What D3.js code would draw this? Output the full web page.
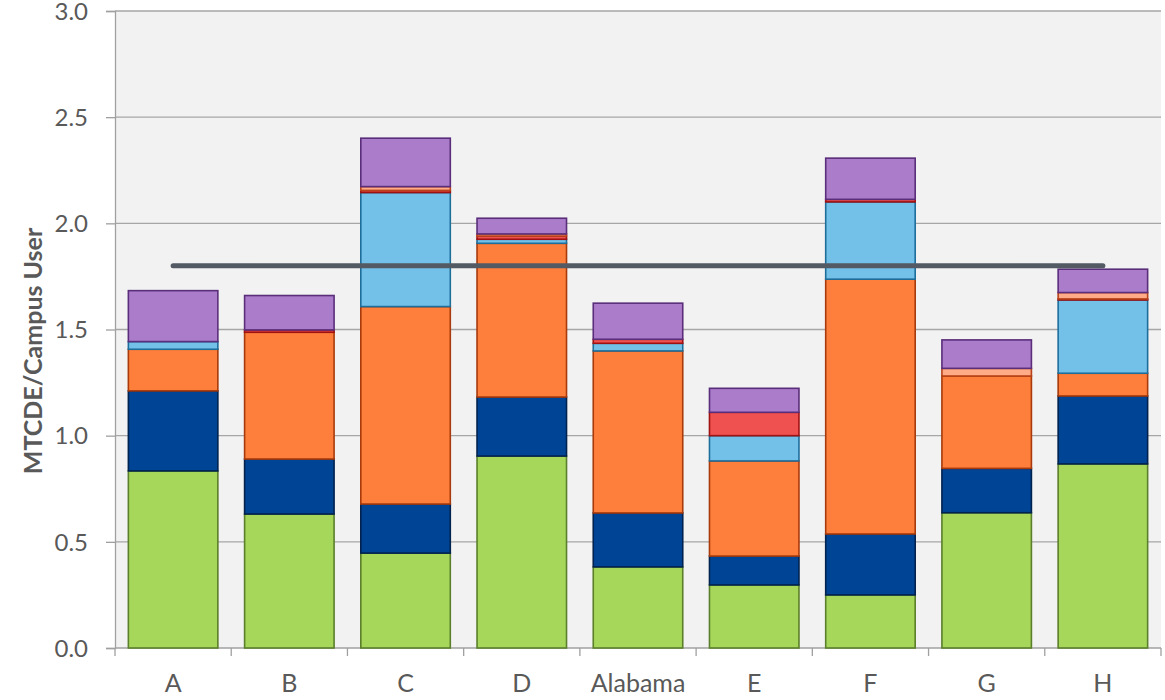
<!DOCTYPE html>
<html>
<head>
<meta charset="utf-8">
<script src="https://cdn.jsdelivr.net/npm/d3@7"></script>
<style>
  html, body { margin: 0; padding: 0; background: #ffffff; }
  svg { display: block; }
  text { font-family: Lato, "Open Sans", sans-serif; fill: #595959; }
</style>
</head>
<body>
<svg id="chart" width="1165" height="700"></svg>
<script>
// Categories along the x axis
const categories = ["A", "B", "C", "D", "Alabama", "E", "F", "G", "H"];

// Stacked components (MTCDE per campus user), bottom to top
const greenSeries     = [0.834, 0.631, 0.447, 0.904, 0.382, 0.297, 0.250, 0.637, 0.867];
const navySeries      = [0.377, 0.259, 0.231, 0.278, 0.254, 0.136, 0.287, 0.209, 0.320];
const orangeSeries    = [0.196, 0.597, 0.930, 0.724, 0.763, 0.448, 1.200, 0.435, 0.107];
const skySeries       = [0.036, 0.000, 0.537, 0.019, 0.036, 0.119, 0.364, 0.000, 0.345];
const redSeries       = [0.000, 0.011, 0.010, 0.015, 0.019, 0.110, 0.012, 0.000, 0.005];
const salmonSeries    = [0.000, 0.000, 0.018, 0.010, 0.000, 0.000, 0.000, 0.036, 0.030];
const purpleSeries    = [0.240, 0.162, 0.228, 0.074, 0.170, 0.113, 0.194, 0.134, 0.110];

// Reference line across the categories
const averageLine     = [1.8, 1.8, 1.8, 1.8, 1.8, 1.8, 1.8, 1.8, 1.8];

// Y axis tick values
const yTicks = [0, 0.5, 1.0, 1.5, 2.0, 2.5, 3.0];

const seriesDefs = [
  { key: "green",  values: greenSeries,  fill: "#a6d75b", stroke: "#5b7f2b" },
  { key: "navy",   values: navySeries,   fill: "#004495", stroke: "#00224f" },
  { key: "orange", values: orangeSeries, fill: "#fe7f3c", stroke: "#a83a0b" },
  { key: "sky",    values: skySeries,    fill: "#73c1e8", stroke: "#1e6e9c" },
  { key: "red",    values: redSeries,    fill: "#ef5050", stroke: "#a01212" },
  { key: "salmon", values: salmonSeries, fill: "#ffab88", stroke: "#b8431a" },
  { key: "purple", values: purpleSeries, fill: "#aa7cc9", stroke: "#5a2e7a" }
];

const rows = categories.map((c, i) => {
  const r = { category: c };
  seriesDefs.forEach(s => { r[s.key] = s.values[i]; });
  return r;
});

const svg = d3.select("#chart");
const margin = { left: 115, right: 4, top: 11, bottom: 52 };
const W = 1165, H = 700;
const plotW = W - margin.left - margin.right;
const plotH = H - margin.top - margin.bottom;

const g = svg.append("g").attr("transform", `translate(${margin.left},${margin.top})`);

const x = d3.scaleBand().domain(categories).range([0, plotW]).paddingInner(0).paddingOuter(0);
const y = d3.scaleLinear().domain([0, 3]).range([plotH, 0]);

// Plot background
g.append("rect")
  .attr("x", 0).attr("y", 0)
  .attr("width", plotW).attr("height", plotH)
  .attr("fill", "#f2f2f2");

// Horizontal gridlines
g.append("g")
  .selectAll("line")
  .data(yTicks.filter(t => t > 0))
  .join("line")
  .attr("x1", 0).attr("x2", plotW)
  .attr("y1", d => y(d)).attr("y2", d => y(d))
  .attr("stroke", "#a6a6a6").attr("stroke-width", 1.3);

// Y axis
const yAxis = g.append("g")
  .call(d3.axisLeft(y).tickValues(yTicks).tickFormat(d3.format(".1f")).tickSize(9).tickPadding(18));
yAxis.select(".domain").attr("stroke", "#a0a0a0").attr("stroke-width", 1.3);
yAxis.selectAll(".tick line").attr("stroke", "#a0a0a0").attr("stroke-width", 1.3);
yAxis.selectAll(".tick text")
  .style("font-family", "Lato, 'Open Sans', sans-serif")
  .style("font-size", "24px").attr("fill", "#595959")
  .attr("dy", "0.34em");

// X axis with ticks at category boundaries
const xAxisG = g.append("g").attr("transform", `translate(0,${plotH})`);
xAxisG.append("line")
  .attr("x1", 0).attr("x2", plotW).attr("y1", 0).attr("y2", 0)
  .attr("stroke", "#a0a0a0").attr("stroke-width", 1.3);
const boundaries = categories.map(c => x(c)).concat([x(categories[categories.length - 1]) + x.bandwidth()]);
xAxisG.selectAll("line.bt")
  .data(boundaries)
  .join("line").attr("class", "bt")
  .attr("x1", d => d).attr("x2", d => d)
  .attr("y1", 0).attr("y2", 8)
  .attr("stroke", "#a0a0a0").attr("stroke-width", 1.3);
xAxisG.selectAll("text")
  .data(categories)
  .join("text")
  .attr("x", d => x(d) + x.bandwidth() / 2)
  .attr("y", 44)
  .attr("text-anchor", "middle")
  .style("font-size", "25px")
  .text(d => d);

// Stacked bars
const stack = d3.stack().keys(seriesDefs.map(s => s.key));
const stacked = stack(rows);
const barW = x.bandwidth() * 0.77;
const barOffset = (x.bandwidth() - barW) / 2;

const layers = g.append("g").selectAll("g")
  .data(stacked)
  .join("g")
  .attr("fill", (d, i) => seriesDefs[i].fill)
  .attr("stroke", (d, i) => seriesDefs[i].stroke)
  .attr("stroke-width", 1.6);

layers.selectAll("rect")
  .data(d => d.filter(p => p[1] - p[0] > 0))
  .join("rect")
  .attr("x", d => x(d.data.category) + barOffset)
  .attr("width", barW)
  .attr("y", d => y(d[1]))
  .attr("height", d => Math.max(0, y(d[0]) - y(d[1])));

// Reference line
const line = d3.line()
  .x((d, i) => x(categories[i]) + x.bandwidth() / 2)
  .y(d => y(d));
g.append("path")
  .datum(averageLine)
  .attr("d", line)
  .attr("fill", "none")
  .attr("stroke", "#535a63")
  .attr("stroke-width", 5)
  .attr("stroke-linecap", "round");

// Y axis title
svg.append("text")
  .attr("transform", `translate(42,${margin.top + 340}) rotate(-90)`)
  .attr("text-anchor", "middle")
  .style("font-size", "25px")
  .style("font-weight", "bold")
  .text("MTCDE/Campus User");
</script>
</body>
</html>
